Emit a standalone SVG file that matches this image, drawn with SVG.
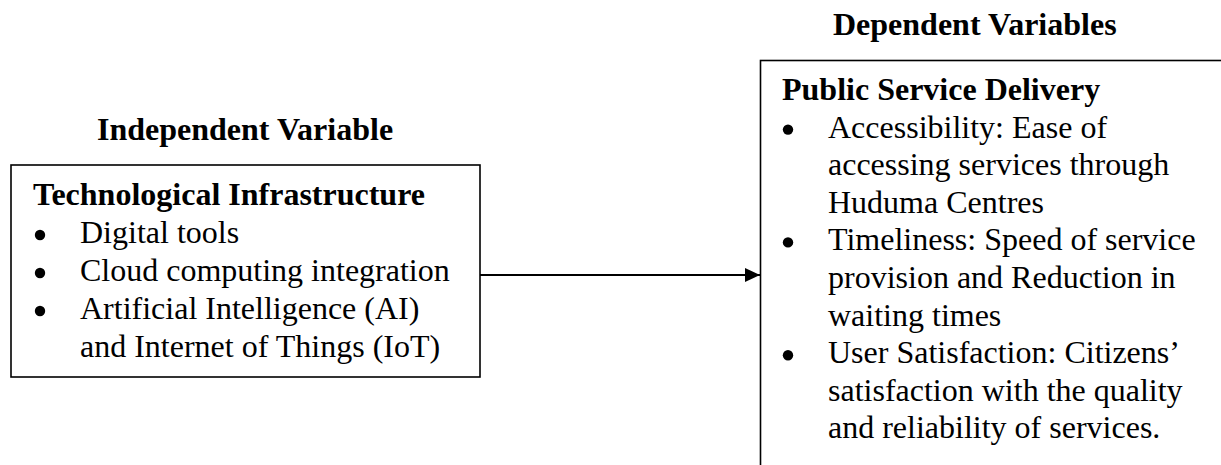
<svg xmlns="http://www.w3.org/2000/svg" width="1221" height="465" viewBox="0 0 1221 465">
  <style>
    text { font-family: "Liberation Serif", "Times New Roman", serif; font-size: 32px; fill: #000; }
    .b { font-weight: bold; }
    .dot { fill: #000; }
    .box { fill: #fff; stroke: #000; stroke-width: 1.6; }
    .conn { stroke: #000; stroke-width: 2; fill: none; }
  </style>
  <defs>
    <marker id="arrow" viewBox="0 0 15 14" refX="15" refY="7" markerWidth="15" markerHeight="14" markerUnits="userSpaceOnUse" orient="auto">
      <path d="M0,0 L15,7 L0,14 Z" fill="#000"/>
    </marker>
  </defs>
  <rect width="1221" height="465" fill="#fff"/>

  <text class="b" x="97" y="140">Independent Variable</text>
  <text class="b" x="833" y="35">Dependent Variables</text>

  <g id="node-independent">
    <rect class="box" x="11" y="165" width="469" height="212"/>
    <text class="b" x="33" y="205">Technological Infrastructure</text>
    <circle class="dot" cx="40" cy="235" r="5.2"/>
    <text x="80" y="243">Digital tools</text>
    <circle class="dot" cx="40" cy="273" r="5.2"/>
    <text x="80" y="281">Cloud computing integration</text>
    <circle class="dot" cx="40" cy="311" r="5.2"/>
    <text x="80" y="319">Artificial Intelligence (AI)</text>
    <text x="80" y="357">and Internet of Things (IoT)</text>
  </g>

  <g id="node-dependent">
    <rect class="box" x="760.5" y="60.5" width="520" height="460"/>
    <text class="b" x="782" y="100">Public Service Delivery</text>
    <circle class="dot" cx="788" cy="129.6" r="5.2"/>
    <text x="828" y="137.6">Accessibility: Ease of</text>
    <text x="828" y="175.2">accessing services through</text>
    <text x="828" y="212.8">Huduma Centres</text>
    <circle class="dot" cx="788" cy="242.4" r="5.2"/>
    <text x="828" y="250.4">Timeliness: Speed of service</text>
    <text x="828" y="288">provision and Reduction in</text>
    <text x="828" y="325.6">waiting times</text>
    <circle class="dot" cx="788" cy="355.2" r="5.2"/>
    <text x="828" y="363.2">User Satisfaction: Citizens’</text>
    <text x="828" y="400.8">satisfaction with the quality</text>
    <text x="828" y="438.4">and reliability of services.</text>
  </g>

  <g id="connectors">
    <line class="conn" x1="480" y1="275" x2="760" y2="275" marker-end="url(#arrow)"/>
  </g>
</svg>
